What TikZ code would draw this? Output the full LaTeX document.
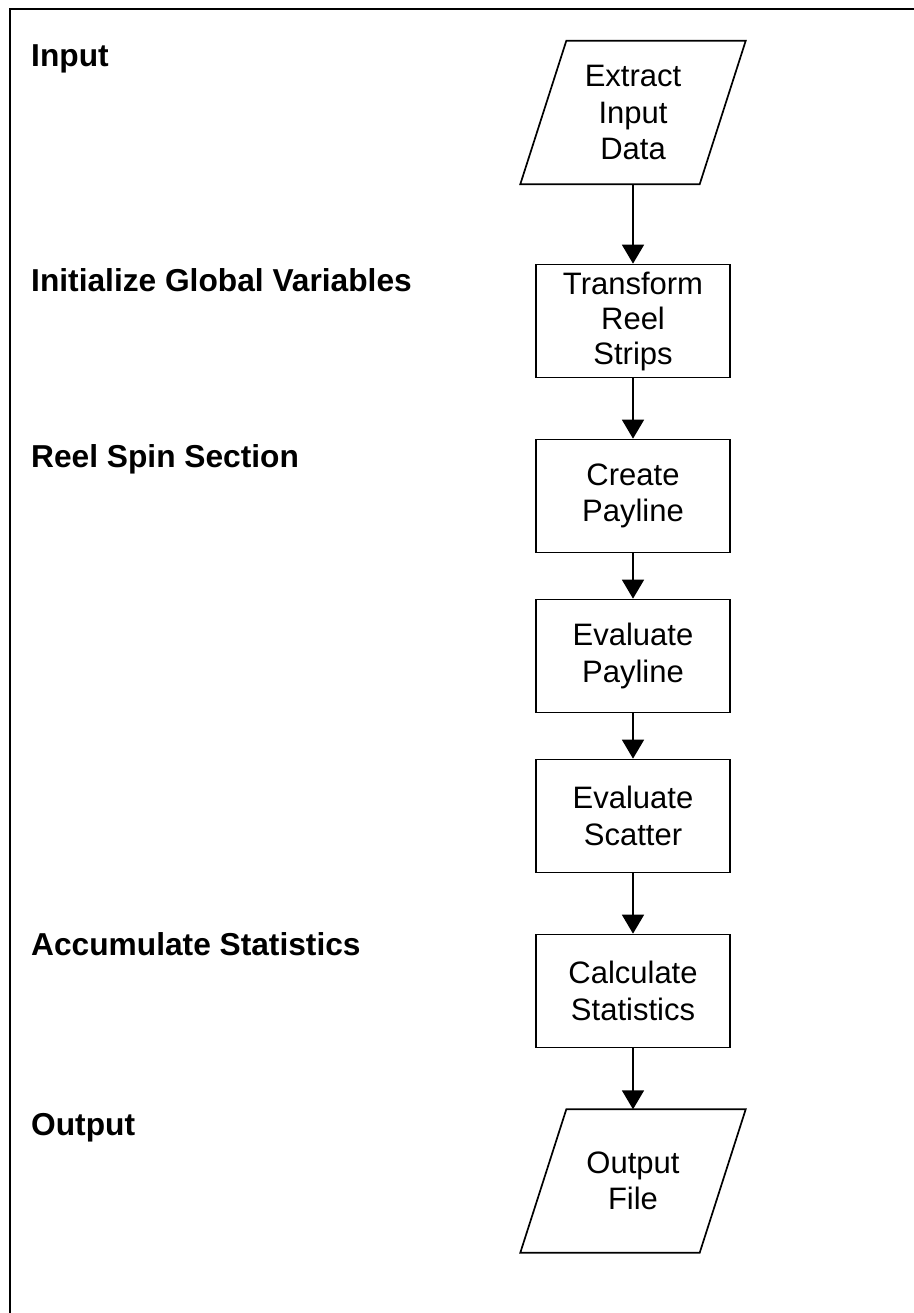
\documentclass[tikz,border=0pt]{standalone}
\usepackage{fontspec}
\setmainfont{Liberation Sans}
\usetikzlibrary{arrows.meta}
\begin{document}
\begin{tikzpicture}[x=1pt,y=-1pt,
  lbl/.style={anchor=base west,inner sep=0pt,font=\fontsize{31.7}{37}\selectfont\bfseries},
  procbox/.style={draw,line width=1.7pt,minimum width=194pt,minimum height=113pt,inner sep=0pt,align=center,font=\fontsize{31}{36.5}\selectfont},
  iobox/.style={minimum width=179pt,minimum height=143pt,inner sep=0pt,align=center,font=\fontsize{31}{36.5}\selectfont},
  flow/.style={line width=1.7pt,-{Triangle[width=22pt,length=19pt]}},
  iopath/.style={line width=1.7pt,line join=miter}
]
\useasboundingbox (0,0) rectangle (913,1313);
\fill[white] (0,0) rectangle (913,1313);
% frame
\coordinate (fbl) at (10,1320);
\coordinate (ftl) at (10,9);
\coordinate (ftr) at (920,9);
\draw[line width=2pt] (fbl) -- (ftl) -- (ftr);
% section labels
\node[lbl] (l1) at (31,67) {Input};
\node[lbl] (l2) at (31,292) {Initialize Global Variables};
\node[lbl] (l3) at (31,467) {Reel Spin Section};
\node[lbl] (l4) at (31,955) {Accumulate Statistics};
\node[lbl] (l5) at (31,1135) {Output};
% flow
\node[iobox] (extract) at (633,112.5) {Extract\\Input\\Data};
\draw[iopath] ([xshift=23pt]extract.north west) -- ([xshift=23pt]extract.north east) -- ([xshift=-23pt]extract.south east) -- ([xshift=-23pt]extract.south west) -- cycle;
\node[procbox,font=\fontsize{31}{35}\selectfont] (transform) at (633,321) {Transform\\Reel\\Strips};
\node[procbox] (create) at (633,496) {Create\\Payline};
\node[procbox] (evalpay) at (633,656) {Evaluate\\Payline};
\node[procbox] (evalscat) at (633,816) {Evaluate\\Scatter};
\node[procbox] (calc) at (633,991) {Calculate\\Statistics};
\node[iobox] (outfile) at (633,1181) {Output\\File};
\draw[iopath] ([xshift=23pt]outfile.north west) -- ([xshift=23pt]outfile.north east) -- ([xshift=-23pt]outfile.south east) -- ([xshift=-23pt]outfile.south west) -- cycle;
\draw[flow] (extract) -- (transform);
\draw[flow] (transform) -- (create);
\draw[flow] (create) -- (evalpay);
\draw[flow] (evalpay) -- (evalscat);
\draw[flow] (evalscat) -- (calc);
\draw[flow] (calc) -- (outfile);
\end{tikzpicture}
\end{document}
